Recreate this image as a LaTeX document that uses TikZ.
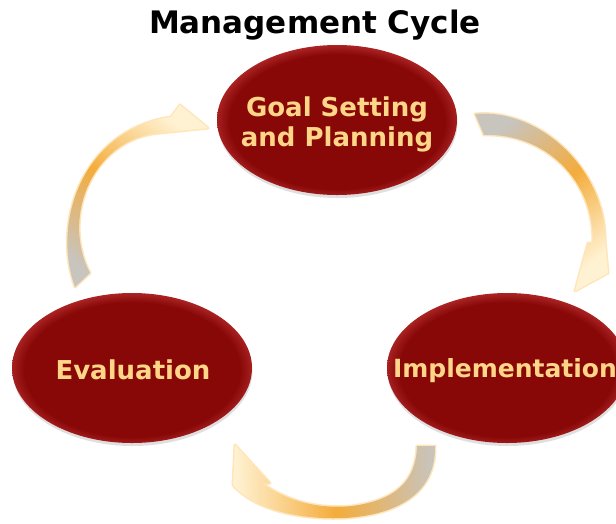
\documentclass[tikz,border=0pt]{standalone}
\usepackage{fontspec}
\setmainfont{DejaVu Sans}
\usetikzlibrary{shapes.geometric,shadows}
\definecolor{ellbase}{RGB}{136,8,8}
\definecolor{ellrim}{RGB}{172,36,36}
\definecolor{lbltext}{RGB}{255,214,135}
\definecolor{arrgray}{RGB}{200,196,190}
\definecolor{arrorange}{RGB}{244,172,60}
\definecolor{arrpale}{RGB}{255,242,210}
\definecolor{arrglow}{RGB}{255,210,130}
\pgfdeclareradialshading{ellrimshade}{\pgfpoint{0bp}{-1bp}}{color(0bp)=(ellbase); color(22.5bp)=(ellbase); color(25.5bp)=(ellrim); color(50bp)=(ellrim)}
\tikzset{
  cyc/.style={ellipse, minimum width=240pt, minimum height=150pt, inner sep=0pt,
    shade, shading=ellrimshade,
    drop shadow={opacity=0.25, shadow xshift=0.5pt, shadow yshift=-3pt}},
  lbl/.style={text=lbltext, font=\bfseries\fontsize{26}{30}\selectfont, align=center, inner sep=0pt},
  ttl/.style={font=\bfseries\fontsize{31}{37}\selectfont, text=black, inner sep=0pt, anchor=base},
  arr/.style={top color=arrgray, bottom color=arrpale, middle color=arrorange,
    preaction={draw=arrglow, line width=3pt, draw opacity=0.55, line join=round}}
}
\begin{document}
\begin{tikzpicture}[x=1pt,y=-1pt]
\useasboundingbox (0,0) rectangle (616,523);
\fill[white] (0,0) rectangle (616,523);

% title
\node[ttl] (title) at (315,33) {Management Cycle};

% arrows
\path[arr, shading angle=38] (475,114) .. controls (540,108) and (606,170) .. (605,240)
  -- (608,273) -- (575,291) -- (588,243) -- (593,243)
  .. controls (594,180) and (545,133) .. (484,135) -- cycle;
\path[arr, shading angle=144] (75,287) .. controls (52,225) and (80,130) .. (171,117)
  -- (180,105) -- (208,128) -- (160,133)
  .. controls (95,138) and (60,215) .. (90,273) -- cycle;
\path[arr, shading angle=-88] (417,446) .. controls (416,480) and (397,500) .. (352,506)
  .. controls (312,510) and (282,497) .. (263,484)
  -- (270,483) -- (235,445) -- (233,485)
  .. controls (255,510) and (300,520) .. (345,518)
  .. controls (395,515) and (436,495) .. (435,446) -- cycle;

% ellipses
\node[cyc] (goal) at (337,120) {};
\node[cyc] (eval) at (132,368) {};
\node[cyc] (impl) at (507,368) {};

% labels
\node[lbl] (goaltext) at (337,124) {Goal Setting\\and Planning};
\node[lbl] (evaltext) at (133,369.5) {Evaluation};
\node[lbl, font=\bfseries\fontsize{25}{30}\selectfont] (impltext) at (505,370.5) {Implementation};
\end{tikzpicture}
\end{document}
